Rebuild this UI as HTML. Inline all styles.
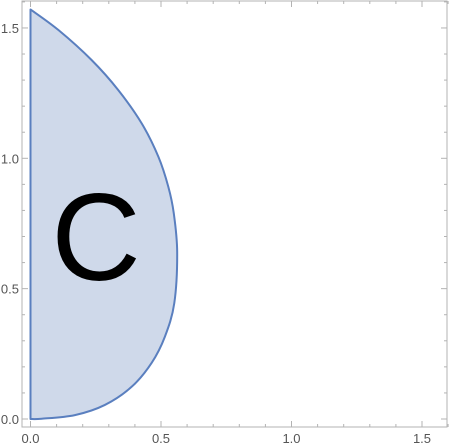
<!DOCTYPE html>
<html><head><meta charset="utf-8"><style>
html,body{margin:0;padding:0;background:#fff;}
svg{display:block;font-family:"Liberation Sans",sans-serif;}
</style></head><body>
<svg id="chart" width="450" height="446"></svg>
<script>
const curveX = [0, 0.107, 0.234, 0.336, 0.426, 0.490, 0.528, 0.549, 0.562, 0.551, 0.515, 0.464, 0.388, 0.285, 0.170, 0.043, 0];
const curveY = [1.571, 1.492, 1.377, 1.262, 1.134, 1.006, 0.891, 0.789, 0.640, 0.445, 0.316, 0.215, 0.124, 0.054, 0.015, 0.001, 0];
const xTicks = [0, 0.5, 1.0, 1.5];
const yTicks = [0, 0.5, 1.0, 1.5];
const xTickLabels = ["0.0", "0.5", "1.0", "1.5"];
const yTickLabels = ["0.0", "0.5", "1.0", "1.5"];
const regionLabel = "C";

const NS = "http://www.w3.org/2000/svg";
const svg = document.getElementById("chart");
const sx = v => 30.5 + v * 261;
const sy = v => 419 - v * 260.7;
const L = 22, R = 447, T = 1, B = 427;
function mk(tag, attrs, parent) {
  const e = document.createElementNS(NS, tag);
  for (const k in attrs) e.setAttribute(k, attrs[k]);
  (parent || svg).appendChild(e);
  return e;
}
const frame = mk("rect", {x: L, y: T, width: R - L, height: B - T, fill: "none", stroke: "#b3b3b3", "stroke-width": 1});


for (let i = 0; i <= 16; i++) {
  const v = i / 10, major = i % 5 === 0, len = major ? 6 : 3;
  const x = sx(v), y = sy(v);
  const t1 = mk("line", {x1: x, x2: x, y1: B, y2: B - len, stroke: "#b3b3b3"});
  
  
  const t2 = mk("line", {x1: x, x2: x, y1: T, y2: T + len, stroke: "#b3b3b3"});
  
  
  if (y > T && y < B) {
    const t3 = mk("line", {x1: L, x2: L + len, y1: y, y2: y, stroke: "#b3b3b3"});
    
    
    const t4 = mk("line", {x1: R, x2: R - len, y1: y, y2: y, stroke: "#b3b3b3"});
    
    
  }
}
xTicks.forEach((v, i) => {
  const t = mk("text", {x: sx(v), y: 443, "text-anchor": "middle", "font-size": 13, fill: "#555"});
  t.textContent = xTickLabels[i];
  
  
});
yTicks.forEach((v, i) => {
  const t = mk("text", {x: 19, y: sy(v) + 5, "text-anchor": "end", "font-size": 13, fill: "#555"});
  t.textContent = yTickLabels[i];
  
  
});
const P = curveX.map((v, i) => [sx(v), sy(curveY[i])]);
let d = "M" + P[0][0] + "," + P[0][1];
for (let i = 0; i < P.length - 1; i++) {
  const p0 = P[Math.max(0, i - 1)], p1 = P[i], p2 = P[i + 1], p3 = P[Math.min(P.length - 1, i + 2)];
  const c1 = [p1[0] + (p2[0] - p0[0]) / 6, p1[1] + (p2[1] - p0[1]) / 6];
  const c2 = [p2[0] - (p3[0] - p1[0]) / 6, p2[1] - (p3[1] - p1[1]) / 6];
  d += " C" + c1[0] + "," + c1[1] + " " + c2[0] + "," + c2[1] + " " + p2[0] + "," + p2[1];
}
d += " Z";
const region = mk("path", {d: d, fill: "#cfd9ea", stroke: "#5a7fbf", "stroke-width": 2, "stroke-linejoin": "round"});


const lbl = mk("text", {x: 96, y: 280, "text-anchor": "middle", "font-size": 124, fill: "#000"});
lbl.textContent = regionLabel;


</script>
</body></html>
